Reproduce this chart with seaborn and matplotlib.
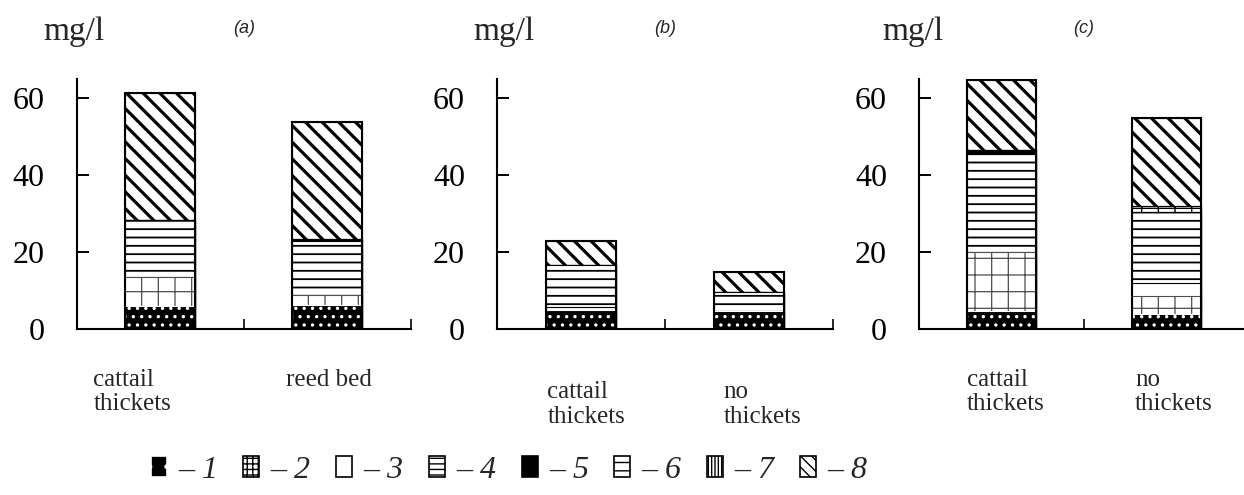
import numpy as np
import pandas as pd
import matplotlib
matplotlib.use("Agg")
import matplotlib.pyplot as plt
from matplotlib.patches import Patch
import seaborn as sns

# --- data (mg/l), six bars: two per panel -------------------------------
panel = ["(a)", "(a)", "(b)", "(b)", "(c)", "(c)"]
site = ["cattail\nthickets", "reed bed",
        "cattail\nthickets", "no\nthickets",
        "cattail\nthickets", "no\nthickets"]

c1 = [6.1, 6.2, 5.0, 4.7, 4.8, 3.8]
c2 = [7.5, 2.7, 0.0, 0.0, 15.3, 4.9]
c3 = [0.0, 0.0, 0.6, 0.0, 0.0, 3.2]
c4 = [14.8, 13.9, 11.0, 4.8, 25.5, 18.6]
c5 = [0.0, 0.5, 0.0, 0.0, 0.8, 0.0]
c6 = [0.0, 0.0, 0.0, 0.0, 0.0, 1.5]
c7 = [0.0, 0.0, 0.0, 0.0, 0.0, 0.0]
c8 = [33.0, 30.5, 6.4, 5.3, 18.2, 22.9]

legend_labels = ["1", "2", "3", "4", "5", "6", "7", "8"]
yticks = [0, 20, 40, 60]

df = pd.DataFrame({"panel": panel, "site": site,
                   "c1": c1, "c2": c2, "c3": c3, "c4": c4,
                   "c5": c5, "c6": c6, "c7": c7, "c8": c8})
comps = ["c1", "c2", "c3", "c4", "c5", "c6", "c7", "c8"]
# cumulative heights -> stacked look by overdrawing from the top down
cum = df[comps].cumsum(axis=1)
for c in comps:
    df["cum_" + c] = cum[c]

# fill styles: facecolor, hatch/edge colour, hatch, hatch linewidth
styles = {
    "c1": ("black", "white", "..", 1.2),
    "c2": ("white", "0.3", "+", 0.9),
    "c3": ("white", "black", "", 1.0),
    "c4": ("white", "black", "--", 1.3),
    "c5": ("black", "black", "", 1.0),
    "c6": ("white", "black", "+", 1.0),
    "c7": ("white", "black", "|||", 1.0),
    "c8": ("white", "black", "\\\\", 2.3),
}
# denser hatches for the small legend keys
legend_hatch = {"c1": ".", "c2": "+++", "c3": "", "c4": "---", "c5": "",
                "c6": "--", "c7": "|||||", "c8": "\\\\\\"}

sns.set_style("white")
plt.rcParams["font.family"] = ["Liberation Serif", "DejaVu Serif"]

fig = plt.figure(figsize=(12.44, 4.95), dpi=100)
ax_pos = [[0.0617, 0.3354, 0.2685, 0.5051],
          [0.3995, 0.3354, 0.2701, 0.5051],
          [0.7387, 0.3354, 0.2653, 0.5051]]
label_dx = [[-0.40, -0.25], [-0.20, -0.15], [-0.21, -0.19]]
label_y = [-0.16, -0.21, -0.16]
unit_x = [-0.10, -0.07, -0.11]

for i, pname in enumerate(["(a)", "(b)", "(c)"]):
    ax = fig.add_axes(ax_pos[i])
    sub = df[df["panel"] == pname].reset_index(drop=True)
    order = list(sub["site"])
    for c in comps[::-1]:
        face, edge, hatch, hlw = styles[c]
        plt.rcParams["hatch.linewidth"] = hlw
        n0 = len(ax.patches)
        sns.barplot(data=sub, x="site", y="cum_" + c, order=order, ax=ax,
                    width=0.42, errorbar=None, facecolor=face,
                    edgecolor=edge, hatch=hatch, linewidth=0.8)
        for p in ax.patches[n0:]:
            if hasattr(p, "set_hatch_linewidth"):
                p.set_hatch_linewidth(hlw)
    # bar outlines
    sns.barplot(data=sub, x="site", y="cum_c8", order=order, ax=ax,
                width=0.42, errorbar=None, facecolor="none",
                edgecolor="black", linewidth=1.5)

    ax.set_xlim(-0.5, 1.5)
    ax.set_ylim(0, 65)
    ax.set_yticks(yticks)
    ax.set_xticks([0, 1])
    ax.set_xticklabels([])
    ax.set_xticks([0.5, 1.5], minor=True)
    ax.set_xlabel("")
    ax.set_ylabel("")
    sns.despine(ax=ax)
    for s in ["left", "bottom"]:
        ax.spines[s].set_linewidth(1.5)
        ax.spines[s].set_color("black")
    ax.tick_params(axis="y", direction="in", length=8.5, width=1.4,
                   pad=23, labelsize=23, colors="black", left=True)
    ax.tick_params(axis="x", which="major", length=0)
    ax.tick_params(axis="x", which="minor", direction="in", length=7,
                   width=1.4, bottom=True)

    for j, name in enumerate(order):
        ax.text(j + label_dx[i][j], label_y[i], name,
                transform=ax.get_xaxis_transform(), ha="left", va="top",
                fontsize=18, linespacing=1.12)
    ax.text(unit_x[i], 1.155, "mg/l", transform=ax.transAxes,
            ha="left", va="baseline", fontsize=24)
    ax.text(0.5, 1.2, pname, transform=ax.transAxes, ha="center",
            va="center", fontsize=13, style="italic",
            family=["Liberation Sans", "DejaVu Sans"])

# legend
handles = []
for c in comps:
    face, edge, hatch, hlw = styles[c]
    plt.rcParams["hatch.linewidth"] = 1.0
    handles.append(Patch(facecolor=face,
                         edgecolor=edge if face == "black" else "black",
                         hatch=legend_hatch[c], linewidth=1.2))
fig.legend(handles, ["\u2013 " + t for t in legend_labels],
           loc="center", bbox_to_anchor=(0.409, 0.05), ncol=8,
           frameon=False, handlelength=0.5, handleheight=0.6,
           handletextpad=0.35, columnspacing=0.8,
           prop={"family": "Liberation Serif", "style": "italic", "size": 23})

fig.savefig("out.png", dpi=100, facecolor="white")
